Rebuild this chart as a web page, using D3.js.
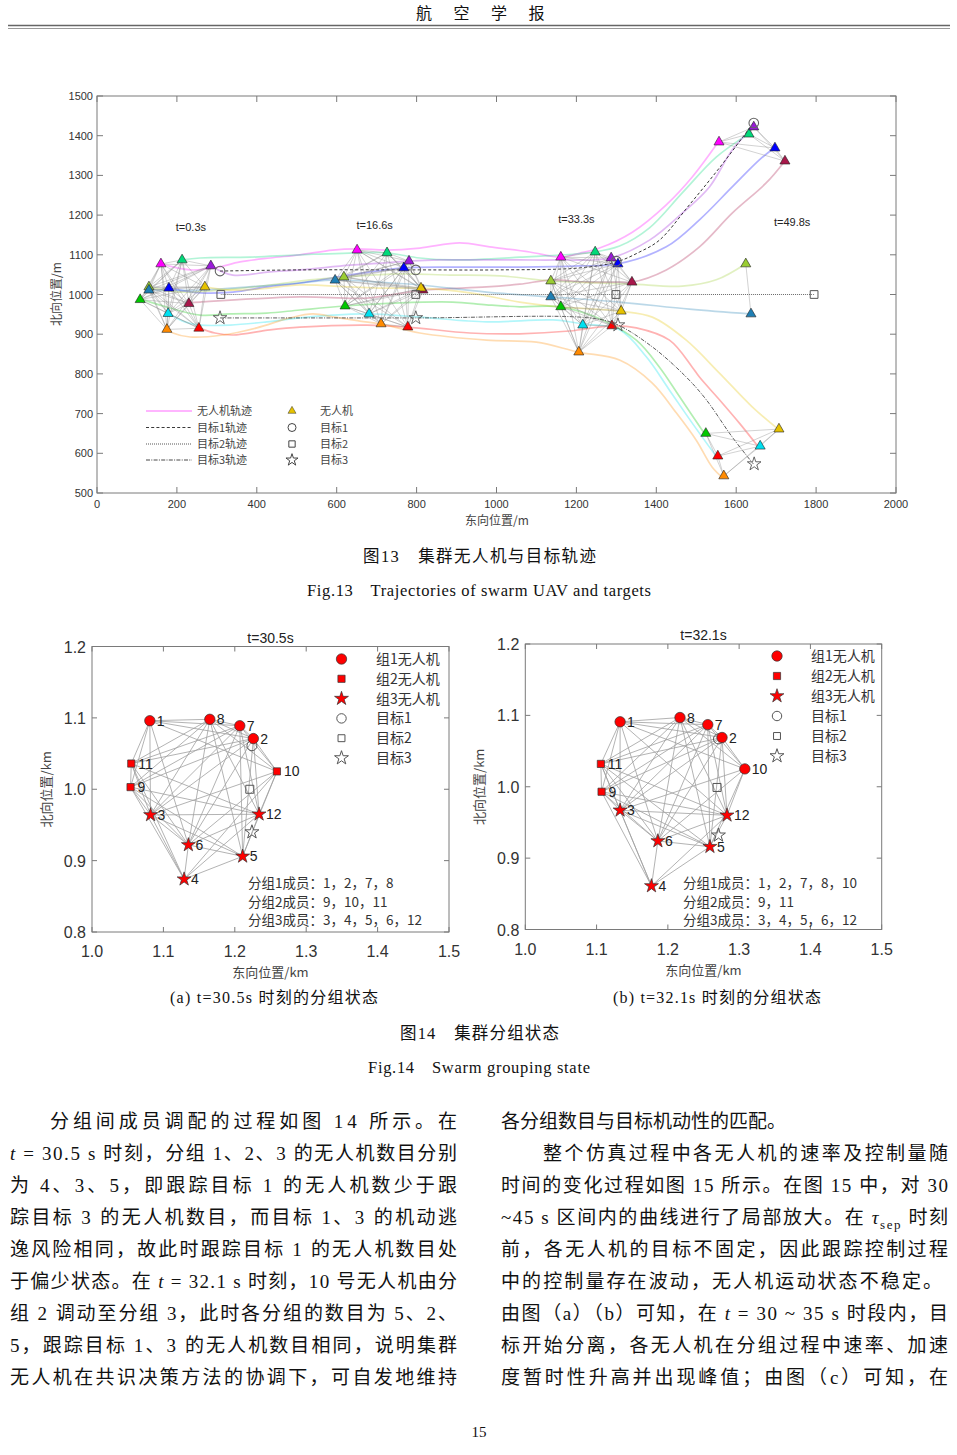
<!DOCTYPE html>
<html><head><meta charset="utf-8">
<script src="https://cdn.jsdelivr.net/npm/d3@7"></script>
<style>body{margin:0;background:#fff}svg{display:block}</style>
</head><body>
<svg id="c" width="957" height="1455"></svg>
<script>
// ---------------- DATA: Fig.13 ----------------
const xTicks13 = [0,200,400,600,800,1000,1200,1400,1600,1800,2000];
const yTicks13 = [500,600,700,800,900,1000,1100,1200,1300,1400,1500];
const uavColors = ['#ff00ff','#00d97a','#9a1ad9','#0000ff','#a8174a','#9acd32','#1f7fb4','#e6c200','#00c800','#00e0f0','#ff0000','#ff8a00'];
const snapLabels = ['t=0.3s','t=16.6s','t=33.3s','t=49.8s'];
const snapLabelPos = [[235,1170],[695,1175],[1200,1190],[1740,1182]];
// UAV positions at each snapshot (order: magenta, springgreen, purple, blue, maroon, yellowgreen, steelblue, gold, green, cyan, red, orange)
const snap0 = [[160,1077],[213,1087],[285,1072],[180,1016],[230,977],[130,1019],[130,1011],[270,1019],[108,987],[178,952],[255,915],[175,912]];
const snap1 = [[651,1112],[726,1105],[781,1084],[768,1067],[816,1011],[618,1044],[596,1036],[811,1016],[621,971],[681,951],[778,918],[711,926]];
const snap2 = [[1161,1094],[1247,1107],[1287,1092],[1304,1077],[1339,1031],[1136,1034],[1136,994],[1312,958],[1161,969],[1216,923],[1289,921],[1206,855]];
const snap3 = [[1557,1384],[1632,1404],[1644,1422],[1697,1369],[1722,1336],[1624,1077],[1637,951],[1707,661],[1524,650],[1660,618],[1554,593],[1569,543]];
const finalGroups = [[0,1,2,3,4],[5,6],[7,8,9,10,11]];
// trajectories
const trajMagenta = [[160,1077],[233,1062],[295,1067],[358,1082],[433,1092],[508,1100],[590,1112],[650,1115],[725,1112],[808,1117],[908,1130],[983,1120],[1083,1107],[1160,1094],[1208,1104],[1258,1117],[1340,1157],[1425,1226],[1490,1296],[1555,1384]];
const trajSpring = [[213,1087],[258,1092],[383,1094],[508,1100],[658,1105],[725,1105],[808,1092],[890,1087],[1058,1094],[1245,1107],[1308,1122],[1383,1168],[1465,1256],[1550,1346],[1630,1404]];
const trajPurple = [[285,1072],[340,1049],[433,1057],[508,1062],[633,1074],[710,1079],[780,1084],[858,1087],[958,1087],[1058,1087],[1158,1087],[1285,1092],[1383,1137],[1465,1205],[1533,1271],[1590,1364],[1643,1422]];
const trajBlue = [[180,1016],[258,1004],[340,1006],[425,1019],[508,1029],[590,1042],[683,1057],[768,1067],[883,1069],[1058,1069],[1208,1072],[1303,1077],[1425,1120],[1508,1188],[1590,1271],[1658,1339],[1695,1369]];
const trajMaroon = [[230,979],[258,981],[508,994],[675,991],[815,1011],[975,1019],[1058,1026],[1140,1037],[1225,1031],[1308,1031],[1338,1031],[1425,1062],[1508,1120],[1590,1205],[1675,1281],[1720,1334]];
const trajYellowGreen = [[130,1019],[208,1006],[308,1011],[433,1024],[533,1037],[618,1044],[758,1052],[883,1049],[1008,1047],[1135,1034],[1258,1029],[1340,1026],[1465,1021],[1550,1037],[1623,1077]];
const trajSteel = [[130,1011],[258,1011],[408,1021],[508,1029],[595,1037],[708,1031],[808,1024],[975,1006],[1135,994],[1308,981],[1483,963],[1635,951]];
const trajGold = [[270,1019],[333,1011],[408,1014],[508,1024],[633,1019],[715,1016],[810,1016],[933,1004],[1058,981],[1158,969],[1310,958],[1390,943],[1475,885],[1558,802],[1640,717],[1705,661]];
const trajGreen = [[108,989],[183,966],[258,948],[333,951],[425,953],[508,961],[620,971],[758,979],[890,981],[975,974],[1058,969],[1160,969],[1265,936],[1350,885],[1408,817],[1458,743],[1523,646]];
const trajCyan = [[178,953],[220,931],[258,923],[333,923],[425,931],[508,941],[590,948],[680,951],[808,943],[975,931],[1140,936],[1215,926],[1308,911],[1375,843],[1433,759],[1490,676],[1553,588]];
const trajRed = [[255,916],[295,903],[340,898],[433,911],[508,918],[675,923],[778,918],[933,903],[1058,901],[1183,908],[1288,921],[1350,916],[1433,885],[1490,817],[1508,792],[1558,735],[1608,676],[1658,613]];
const trajOrange = [[175,913],[190,903],[233,893],[315,898],[400,916],[483,941],[540,951],[595,943],[658,933],[710,926],[808,903],[975,885],[1100,880],[1205,855],[1308,835],[1390,777],[1450,702],[1500,633],[1540,565],[1568,537]];
const target1Track = [[308,1059],[508,1062],[798,1062],[1008,1062],[1208,1067],[1300,1082],[1358,1107],[1408,1137],[1483,1226],[1558,1319],[1643,1432]];
const target2Track = [[310,1000],[798,1000],[1299,1000],[1795,1000]];
const target3Track = [[308,941],[798,941],[1233,941],[1300,925],[1390,868],[1475,792],[1525,735],[1590,641],[1643,573]];
const target1Snaps = [[308,1059],[798,1062],[1300,1084],[1644,1432]];
const target2Snaps = [[310,1000],[798,1000],[1299,1000],[1795,1000]];
const target3Snaps = [[308,941],[798,941],[1304,923],[1645,573]];
const legend13Lines = ['无人机轨迹','目标1轨迹','目标2轨迹','目标3轨迹'];
const legend13Marks = ['无人机','目标1','目标2','目标3'];

// ---------------- DATA: Fig.14 ----------------
const ticks14 = [1.0,1.1,1.2,1.3,1.4,1.5];
const yticks14 = [0.8,0.9,1.0,1.1,1.2];
const uavIds = [1,2,3,4,5,6,7,8,9,10,11,12];
const ax = [1.081,1.226,1.082,1.129,1.211,1.135,1.207,1.165,1.054,1.259,1.055,1.234];
const ay = [1.096,1.071,0.964,0.874,0.906,0.922,1.089,1.098,1.003,1.025,1.036,0.965];
const aGroup = [1,1,3,3,3,3,1,1,2,2,2,3];
const aTargets = [[1.224,1.061],[1.221,1.000],[1.224,0.940]];
const aMembers = ['分组1成员：1，2，7，8','分组2成员：9，10，11','分组3成员：3，4，5，6，12'];
const bx = [1.133,1.276,1.133,1.177,1.259,1.186,1.256,1.217,1.107,1.308,1.106,1.283];
const by = [1.091,1.069,0.967,0.861,0.916,0.924,1.087,1.097,0.993,1.025,1.032,0.960];
const bGroup = [1,1,3,3,3,3,1,1,2,1,2,3];
const bTargets = [[1.271,1.067],[1.269,0.999],[1.271,0.932]];
const bMembers = ['分组1成员：1，2，7，8，10','分组2成员：9，11','分组3成员：3，4，5，6，12'];
const legend14 = ['组1无人机','组2无人机','组3无人机','目标1','目标2','目标3'];

// ---------------- Body text ----------------
const leftLines = [
 '分组间成员调配的过程如图 14 所示。在',
 '*t* = 30.5 s 时刻，分组 1、2、3 的无人机数目分别',
 '为 4、3、5，即跟踪目标 1 的无人机数少于跟',
 '踪目标 3 的无人机数目，而目标 1、3 的机动逃',
 '逸风险相同，故此时跟踪目标 1 的无人机数目处',
 '于偏少状态。在 *t* = 32.1 s 时刻，10 号无人机由分',
 '组 2 调动至分组 3，此时各分组的数目为 5、2、',
 '5，跟踪目标 1、3 的无人机数目相同，说明集群',
 '无人机在共识决策方法的协调下，可自发地维持'];
const rightLines = [
 '各分组数目与目标机动性的匹配。',
 '整个仿真过程中各无人机的速率及控制量随',
 '时间的变化过程如图 15 所示。在图 15 中，对 30',
 '~45 s 区间内的曲线进行了局部放大。在 *τ*_sep_ 时刻',
 '前，各无人机的目标不固定，因此跟踪控制过程',
 '中的控制量存在波动，无人机运动状态不稳定。',
 '由图（a）（b）可知，在 *t* = 30 ~ 35 s 时段内，目',
 '标开始分离，各无人机在分组过程中速率、加速',
 '度暂时性升高并出现峰值；由图（c）可知，在'];

// ================= DRAW =================
const svg = d3.select('#c');
const SANS = "'Liberation Sans', Arial, 'Noto Sans CJK SC', sans-serif";
const SERIF = "'Liberation Serif', 'Times New Roman', 'Noto Sans CJK SC', serif";

// header
const hdr = ['航','空','学','报'];
svg.selectAll('text.hdr').data(hdr).enter().append('text')
  .attr('x',(d,i)=>424+i*37.5).attr('y',19).attr('text-anchor','middle')
  .attr('font-family',"'Noto Sans CJK SC'").attr('font-size',16).attr('fill','#111').text(d=>d);
svg.append('line').attr('x1',8).attr('x2',950).attr('y1',25.5).attr('y2',25.5).attr('stroke','#666').attr('stroke-width',1.6);
svg.append('line').attr('x1',8).attr('x2',950).attr('y1',28.5).attr('y2',28.5).attr('stroke','#999').attr('stroke-width',1);

// ---------- Fig 13 ----------
const x13 = d3.scaleLinear().domain([0,2000]).range([97,896]);
const y13 = d3.scaleLinear().domain([500,1500]).range([493,96]);
const g13 = svg.append('g');
const frame = (g,xs,ys,xt,yt,tl)=>{
  const [xa,xb]=xs.range(), [ya,yb]=ys.range();
  g.append('rect').attr('x',xa).attr('y',yb).attr('width',xb-xa).attr('height',ya-yb)
    .attr('fill','none').attr('stroke','#7a7a7a').attr('stroke-width',1);
  xt.forEach(v=>{const p=xs(v);
    g.append('line').attr('x1',p).attr('x2',p).attr('y1',ya).attr('y2',ya-tl).attr('stroke','#7a7a7a');
    g.append('line').attr('x1',p).attr('x2',p).attr('y1',yb).attr('y2',yb+tl).attr('stroke','#7a7a7a');});
  yt.forEach(v=>{const p=ys(v);
    g.append('line').attr('x1',xa).attr('x2',xa+tl).attr('y1',p).attr('y2',p).attr('stroke','#7a7a7a');
    g.append('line').attr('x1',xb).attr('x2',xb-tl).attr('y1',p).attr('y2',p).attr('stroke','#7a7a7a');});
};
frame(g13,x13,y13,xTicks13,yTicks13,6);
g13.selectAll('text.xt').data(xTicks13).enter().append('text').attr('x',d=>x13(d)).attr('y',508)
  .attr('text-anchor','middle').attr('font-family',SANS).attr('font-size',11).attr('fill','#333').text(d=>d);
g13.selectAll('text.yt').data(yTicks13).enter().append('text').attr('x',93).attr('y',d=>y13(d)+4)
  .attr('text-anchor','end').attr('font-family',SANS).attr('font-size',11).attr('fill','#333').text(d=>d);
g13.append('text').attr('x',497).attr('y',525).attr('text-anchor','middle').attr('font-family',"'Noto Sans CJK SC'")
  .attr('font-size',12).attr('fill','#444').text('东向位置/m');
g13.append('text').attr('transform','translate(61,294) rotate(-90)').attr('text-anchor','middle').attr('font-family',"'Noto Sans CJK SC'")
  .attr('font-size',12).attr('fill','#444').text('北向位置/m');

const line13 = d3.line().x(d=>x13(d[0])).y(d=>y13(d[1])).curve(d3.curveCatmullRom.alpha(0.5));
const trajs = [trajMagenta,trajSpring,trajPurple,trajBlue,trajMaroon,trajYellowGreen,trajSteel,trajGold,trajGreen,trajCyan,trajRed,trajOrange];
g13.selectAll('path.traj').data(trajs).enter().append('path').attr('d',line13)
  .attr('fill','none').attr('stroke',(d,i)=>uavColors[i]).attr('stroke-opacity',0.3).attr('stroke-width',1.7);
const tstyle = [['#222','3,2.2',0.9],['#444','1,1',0.8],['#333','4,1.3,1,1.3',0.8]];
[target1Track,target2Track,target3Track].forEach((t,i)=>{
  g13.append('path').attr('d',line13(t)).attr('fill','none').attr('stroke',tstyle[i][0])
    .attr('stroke-dasharray',tstyle[i][1]).attr('stroke-width',tstyle[i][2]);
});
// comm edges
const snaps=[snap0,snap1,snap2,snap3];
snaps.forEach((s,si)=>{
  const groups = si<3 ? [d3.range(12)] : finalGroups;
  groups.forEach(gr=>{
    for(let a=0;a<gr.length;a++)for(let b=a+1;b<gr.length;b++){
      const p=s[gr[a]],q=s[gr[b]];
      g13.append('line').attr('x1',x13(p[0])).attr('y1',y13(p[1])).attr('x2',x13(q[0])).attr('y2',y13(q[1]))
        .attr('stroke','#8a8a8a').attr('stroke-opacity',0.55).attr('stroke-width',0.7);
    }
  });
});
const tri = d3.symbol().type(d3.symbolTriangle).size(44);
snaps.forEach(s=>{
  g13.selectAll(null).data(s).enter().append('path').attr('d',tri)
    .attr('transform',d=>`translate(${x13(d[0])},${y13(d[1])})`)
    .attr('fill',(d,i)=>uavColors[i]).attr('stroke','#222').attr('stroke-width',0.6);
});
const sq = d3.symbol().type(d3.symbolSquare).size(60);
const starS = d3.symbol().type(d3.symbolStar).size(58);
g13.selectAll(null).data(target1Snaps).enter().append('circle').attr('cx',d=>x13(d[0])).attr('cy',d=>y13(d[1])).attr('r',4.8)
  .attr('fill','none').attr('stroke','#666').attr('stroke-width',1.1);
g13.selectAll(null).data(target2Snaps).enter().append('path').attr('d',sq).attr('transform',d=>`translate(${x13(d[0])},${y13(d[1])})`)
  .attr('fill','none').attr('stroke','#555').attr('stroke-width',1);
g13.selectAll(null).data(target3Snaps).enter().append('path').attr('d',starS).attr('transform',d=>`translate(${x13(d[0])},${y13(d[1])})`)
  .attr('fill','none').attr('stroke','#555').attr('stroke-width',0.9);
g13.selectAll('text.snap').data(snapLabels).enter().append('text')
  .attr('x',(d,i)=>x13(snapLabelPos[i][0])).attr('y',(d,i)=>y13(snapLabelPos[i][1])+4)
  .attr('text-anchor','middle').attr('font-family',SANS).attr('font-size',11).attr('fill','#222').text(d=>d);
// legend
const legY = [411,427.5,444,460];
legY.forEach((yy,i)=>{
  const l=g13.append('line').attr('x1',146).attr('x2',192).attr('y1',yy).attr('y2',yy);
  if(i===0) l.attr('stroke','#ff9cff').attr('stroke-width',1.6);
  else l.attr('stroke',tstyle[i-1][0]).attr('stroke-dasharray',tstyle[i-1][1]).attr('stroke-width',0.9);
  g13.append('text').attr('x',197).attr('y',yy+4).attr('font-family',"'Noto Sans CJK SC'").attr('font-size',11).attr('fill','#444').text(legend13Lines[i]);
  g13.append('text').attr('x',320).attr('y',yy+4).attr('font-family',"'Noto Sans CJK SC'").attr('font-size',11).attr('fill','#444').text(legend13Marks[i]);
});
g13.append('path').attr('d',d3.symbol().type(d3.symbolTriangle).size(28)).attr('transform','translate(292,411)').attr('fill','#e6c200').attr('stroke','#333').attr('stroke-width',0.5);
g13.append('circle').attr('cx',292).attr('cy',427.5).attr('r',4).attr('fill','none').attr('stroke','#444').attr('stroke-width',1);
g13.append('path').attr('d',d3.symbol().type(d3.symbolSquare).size(40)).attr('transform','translate(292,444)').attr('fill','none').attr('stroke','#444');
g13.append('path').attr('d',d3.symbol().type(d3.symbolStar).size(45)).attr('transform','translate(292,460)').attr('fill','none').attr('stroke','#444');

// captions
const cap = (t,x,y,sz,w)=>svg.append('text').attr('x',x-w/2).attr('y',y).attr('font-family',SERIF).attr('font-size',sz)
  .attr('fill','#111').attr('textLength',w).attr('lengthAdjust','spacing').text(t);
cap('图13　集群无人机与目标轨迹',479.5,562,16.5,233);
cap('Fig.13　Trajectories of swarm UAV and targets',479,596,16.5,344);
cap('图14　集群分组状态',479.5,1039,16.5,159);
cap('Fig.14　Swarm grouping state',479,1073,16.5,222);

// ---------- Fig 14 ----------
function fig14(o){
  const xs=d3.scaleLinear().domain([1.0,1.5]).range([o.x0,o.x1]);
  const ys=d3.scaleLinear().domain([0.8,1.2]).range([o.y0,o.y1]);
  const g=svg.append('g');
  frame(g,xs,ys,ticks14,yticks14,5);
  g.selectAll(null).data(ticks14).enter().append('text').attr('x',d=>xs(d)).attr('y',o.y0+25)
    .attr('text-anchor','middle').attr('font-family',SANS).attr('font-size',16).attr('fill','#333').text(d=>d.toFixed(1));
  g.selectAll(null).data(yticks14).enter().append('text').attr('x',o.x0-6).attr('y',d=>ys(d)+6)
    .attr('text-anchor','end').attr('font-family',SANS).attr('font-size',16).attr('fill','#333').text(d=>d.toFixed(1));
  g.append('text').attr('x',(o.x0+o.x1)/2).attr('y',o.y1-4).attr('text-anchor','middle').attr('font-family',SANS).attr('font-size',14).attr('fill','#222').text(o.title);
  g.append('text').attr('x',(o.x0+o.x1)/2).attr('y',o.y0+45).attr('text-anchor','middle').attr('font-family',"'Noto Sans CJK SC'").attr('font-size',13).attr('fill','#444').text('东向位置/km');
  g.append('text').attr('transform',`translate(${o.x0-41},${(o.y0+o.y1)/2}) rotate(-90)`).attr('text-anchor','middle').attr('font-family',"'Noto Sans CJK SC'").attr('font-size',13).attr('fill','#444').text('北向位置/km');
  // edges
  const n=o.xv.length;
  for(let a=0;a<n;a++)for(let b=a+1;b<n;b++){
    const d=Math.hypot(o.xv[a]-o.xv[b],o.yv[a]-o.yv[b]);
    if(d<0.2) g.append('line').attr('x1',xs(o.xv[a])).attr('y1',ys(o.yv[a])).attr('x2',xs(o.xv[b])).attr('y2',ys(o.yv[b]))
      .attr('stroke','#a0a0a0').attr('stroke-width',0.8);
  }
  // targets
  g.append('circle').attr('cx',xs(o.tg[0][0])).attr('cy',ys(o.tg[0][1])).attr('r',5).attr('fill','none').attr('stroke','#555').attr('stroke-width',1);
  g.append('path').attr('d',d3.symbol().type(d3.symbolSquare).size(64)).attr('transform',`translate(${xs(o.tg[1][0])},${ys(o.tg[1][1])})`).attr('fill','none').attr('stroke','#555');
  g.append('path').attr('d',d3.symbol().type(d3.symbolStar).size(60)).attr('transform',`translate(${xs(o.tg[2][0])},${ys(o.tg[2][1])})`).attr('fill','none').attr('stroke','#555');
  // uavs
  const sym = gr=> gr===1? d3.symbol().type(d3.symbolCircle).size(85)() : gr===2? d3.symbol().type(d3.symbolSquare).size(52)() : d3.symbol().type(d3.symbolStar).size(60)();
  uavIds.forEach((id,i)=>{
    g.append('path').attr('d',sym(o.gr[i])).attr('transform',`translate(${xs(o.xv[i])},${ys(o.yv[i])})`)
      .attr('fill','#ff0000').attr('stroke','#333').attr('stroke-width',0.7);
    g.append('text').attr('x',xs(o.xv[i])+7).attr('y',ys(o.yv[i])+5).attr('font-family',SANS).attr('font-size',14).attr('fill','#222').text(id);
  });
  // legend
  legend14.forEach((t,i)=>{
    const yy=o.ly+i*o.ldy, xx=o.lx;
    let m;
    if(i<3) m=g.append('path').attr('d',sym(i+1)).attr('fill','#ff0000').attr('stroke','#333').attr('stroke-width',0.7);
    else if(i===3) m=g.append('path').attr('d',d3.symbol().type(d3.symbolCircle).size(70)()).attr('fill','none').attr('stroke','#555');
    else if(i===4) m=g.append('path').attr('d',d3.symbol().type(d3.symbolSquare).size(48)()).attr('fill','none').attr('stroke','#555');
    else m=g.append('path').attr('d',d3.symbol().type(d3.symbolStar).size(60)()).attr('fill','none').attr('stroke','#555');
    m.attr('transform',`translate(${xx},${yy})`);
    g.append('text').attr('x',o.ltx).attr('y',yy+5).attr('font-family',"'Noto Sans CJK SC'").attr('font-size',14).attr('fill','#333').text(t);
  });
  o.mem.forEach((t,i)=>{
    g.append('text').attr('x',o.mx).attr('y',o.my+i*18.5).attr('font-family',"'Noto Sans CJK SC'").attr('font-size',13.5).attr('fill','#333').text(t);
  });
  svg.append('text').attr('x',o.capx-104).attr('y',1003).attr('font-family',SERIF).attr('font-size',16)
    .attr('textLength',208).attr('lengthAdjust','spacing').attr('fill','#111').text(o.cap);
}
fig14({x0:92,x1:449,y0:932,y1:646.5,title:'t=30.5s',xv:ax,yv:ay,gr:aGroup,tg:aTargets,mem:aMembers,
  lx:341.5,ly:659,ldy:19.8,ltx:376,mx:248,my:888,capx:274,cap:'(a) t=30.5s 时刻的分组状态'});
fig14({x0:525.3,x1:881.7,y0:929.5,y1:644,title:'t=32.1s',xv:bx,yv:by,gr:bGroup,tg:bTargets,mem:bMembers,
  lx:777,ly:656,ldy:20,ltx:811,mx:683,my:888,capx:717,cap:'(b) t=32.1s 时刻的分组状态'});

// ---------- Body text ----------
function bodyLine(str,x,y,w){
  const t=svg.append('text').attr('x',x).attr('y',y).attr('font-family',SERIF).attr('font-size',19).attr('fill','#111');
  const parts=str.split(/(\*[^*]+\*|_[^_]+_)/).filter(s=>s.length);
  let sub=false;
  parts.forEach(p=>{
    if(p[0]==='*'){t.append('tspan').attr('font-style','italic').attr('dy',sub?-5:0).text(p.slice(1,-1));sub=false;}
    else if(p[0]==='_'){t.append('tspan').attr('font-size',13).attr('dy',5).text(p.slice(1,-1));sub=true;}
    else {t.append('tspan').attr('dy',sub?-5:0).text(p);sub=false;}
  });
  if(w) t.attr('textLength',w).attr('lengthAdjust','spacing');
}
const rowY = d3.range(9).map(i=>1128+i*32);
leftLines.forEach((s,i)=>{const x0=i===0?50:10; bodyLine(s,x0,rowY[i],457-x0);});
rightLines.forEach((s,i)=>{
  const x0=i===1?543:501;
  bodyLine(s,x0,rowY[i], i===0? null : (i===5? 441: 948-x0));
});
svg.append('text').attr('x',479).attr('y',1437).attr('text-anchor','middle').attr('font-family',SERIF).attr('font-size',15).attr('fill','#111').text('15');
</script>
</body></html>
